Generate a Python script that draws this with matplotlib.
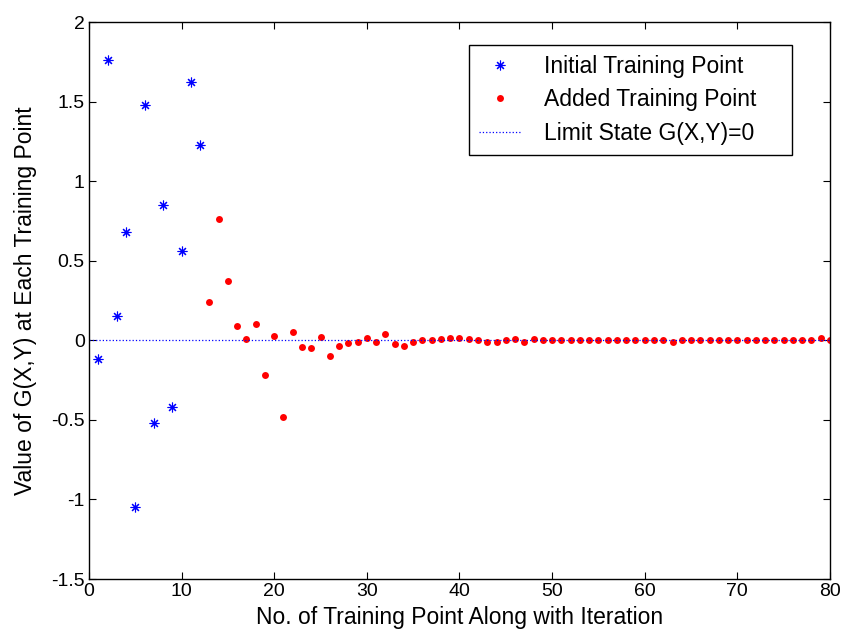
import numpy as np
import matplotlib.pyplot as plt

plt.rcParams['font.family'] = ['Liberation Sans', 'DejaVu Sans']

# Initial training points (x = 1..12)
x_init = list(range(1, 13))
g_init = [-0.12, 1.76, 0.15, 0.68, -1.05, 1.48, -0.52, 0.85, -0.42, 0.56, 1.62, 1.23]

# Added training points (x = 13..80)
x_add = list(range(13, 81))
g_add = [0.24, 0.76, 0.37, 0.09, 0.01, 0.10, -0.22, 0.03, -0.48, 0.053,
         -0.042, -0.05, 0.02, -0.097, -0.034, -0.019, -0.01, 0.013, -0.01, 0.038,
         -0.025, -0.034, -0.01, 0.0, 0.0, 0.006, 0.013, 0.013, 0.006, 0.0,
         -0.01, -0.01, 0.0, 0.006, -0.01, 0.006, 0.0, 0.0, 0.0, 0.0,
         0.0, 0.0, 0.0, 0.0, 0.0, 0.0, 0.0, 0.0, 0.0, 0.0,
         -0.013, 0.0, 0.0, 0.0, 0.0, 0.0, 0.0, 0.0, 0.0, 0.0,
         0.0, 0.0, 0.0, 0.0, 0.0, 0.0, 0.017, 0.004]

limit_x = [0, 80]
limit_y = [0, 0]

# matlab-style legend leaves extra room on the right
pad = '    '

fig = plt.figure(figsize=(8.41, 6.36), dpi=100)
ax = fig.add_axes([0.1058, 0.0896, 0.8811, 0.8758])

ax.plot(x_init, g_init, linestyle='none', marker=(8, 2, 0), markersize=7,
        color='#0000ff', markeredgewidth=0.8, label='Initial Training Point' + pad)
ax.plot(x_add, g_add, linestyle='none', marker='o', markersize=5,
        color='#ff0000', markeredgewidth=0, label='Added Training Point' + pad)
ax.plot(limit_x, limit_y, linestyle=':', linewidth=0.9, color='#0000ff',
        label='Limit State G(X,Y)=0' + pad)

ax.set_xlim(0, 80)
ax.set_ylim(-1.5, 2)
ax.set_xticks(np.arange(0, 81, 10))
ax.set_yticks(np.arange(-1.5, 2.01, 0.5))
ax.set_yticklabels(['-1.5', '-1', '-0.5', '0', '0.5', '1', '1.5', '2'])
ax.tick_params(direction='in', length=5, width=0.8, labelsize=14, pad=3,
               top=True, right=True)
for s in ax.spines.values():
    s.set_linewidth(1.0)

ax.set_xlabel('No. of Training Point Along with Iteration', fontsize=16.5, labelpad=4)
ax.set_ylabel('Value of G(X,Y) at Each Training Point', fontsize=16.5, labelpad=10)

leg = ax.legend(loc='upper right', bbox_to_anchor=(0.964, 0.980), fontsize=16.5,
                fancybox=False, edgecolor='black', framealpha=1,
                handlelength=1.8, borderpad=0.45, labelspacing=0.45,
                handletextpad=1.0)
leg.get_frame().set_linewidth(1.0)

fig.savefig('out.png', dpi=100)
